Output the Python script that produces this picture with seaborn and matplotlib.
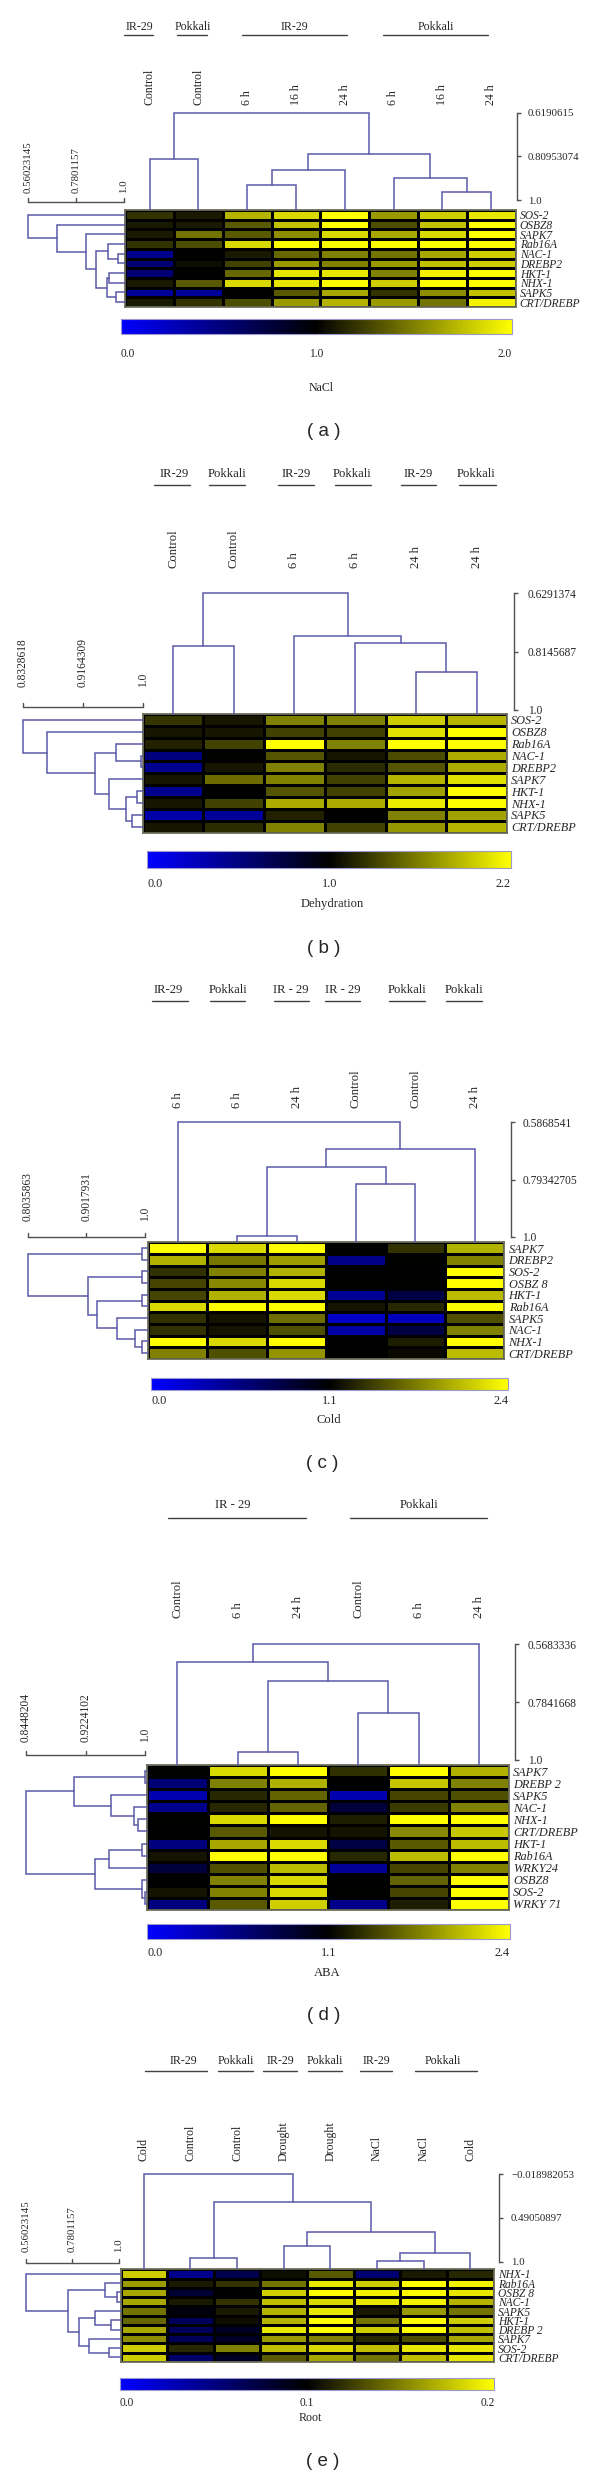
import numpy as np
import pandas as pd
import seaborn as sns
from matplotlib import pyplot as plt
from matplotlib.colors import LinearSegmentedColormap, TwoSlopeNorm

W, H = 600, 2476
PT = 0.72  # points per pixel at dpi 100

sns.set_style('white')
plt.rcParams['font.family'] = ['Liberation Serif', 'DejaVu Serif']

LINE_C = '#5a5aa8'
SCALE_C = '#505050'
cmap = LinearSegmentedColormap.from_list('blue_black_yellow', ['#0000ff', '#000000', '#ffff00'])

# ---------------- (a) NaCl ----------------
a_genes = ['SOS-2', 'OSBZ8', 'SAPK7', 'Rab16A', 'NAC-1', 'DREBP2', 'HKT-1', 'NHX-1', 'SAPK5', 'CRT/DREBP']
a_cols = ['Control', 'Control', '6 h', '16 h', '24 h', '6 h', '16 h', '24 h']
a_vals = [
    [1.2, 1.1, 1.7, 1.85, 2.0, 1.6, 1.8, 1.9],
    [1.1, 1.1, 1.35, 1.75, 2.0, 1.3, 1.75, 2.0],
    [1.1, 1.45, 1.35, 1.55, 1.85, 1.65, 1.85, 2.0],
    [1.2, 1.3, 1.85, 2.0, 2.0, 2.0, 2.0, 2.0],
    [0.45, 1.0, 1.1, 1.4, 1.5, 1.45, 1.65, 1.8],
    [0.55, 1.05, 1.25, 1.6, 1.5, 1.6, 1.75, 1.8],
    [0.55, 1.0, 1.4, 1.9, 1.9, 1.5, 1.95, 2.0],
    [1.1, 1.35, 1.85, 1.9, 2.0, 1.8, 2.0, 2.0],
    [0.4, 0.4, 1.0, 1.35, 1.65, 1.2, 1.55, 1.75],
    [1.1, 1.2, 1.3, 1.6, 1.7, 1.6, 1.45, 1.95],
]
a_col_tree = [(0, 1, 0.819), (2, 3, 0.935), (9, 4, 0.870), (6, 7, 0.967),
              (5, 11, 0.903), (10, 12, 0.797), (8, 13, 0.6190615)]
a_row_tree = [(4, 5, 0.974), (3, 10, 0.928), (6, 7, 0.932), (8, 9, 0.963), (12, 13, 0.922),
              (11, 14, 0.871), (2, 15, 0.829), (1, 16, 0.693), (0, 17, 0.5602)]
a_col_scale = ['0.6190615', '0.80953074', '1.0']
a_row_scale = ['0.56023145', '0.7801157', '1.0']
a_cbar = ['0.0', '1.0', '2.0']
a_groups = ['IR-29', 'Pokkali', 'IR-29', 'Pokkali']

# ---------------- (b) Dehydration ----------------
b_genes = ['SOS-2', 'OSBZ8', 'Rab16A', 'NAC-1', 'DREBP2', 'SAPK7', 'HKT-1', 'NHX-1', 'SAPK5', 'CRT/DREBP']
b_cols = ['Control', 'Control', '6 h', '6 h', '24 h', '24 h']
b_vals = [
    [1.25, 1.1, 1.6, 1.6, 1.95, 1.85],
    [1.1, 1.1, 1.3, 1.3, 2.05, 2.2],
    [1.15, 1.3, 2.2, 1.6, 2.2, 2.2],
    [0.5, 1.0, 1.4, 1.1, 1.35, 1.8],
    [0.45, 1.1, 1.6, 1.2, 1.4, 1.8],
    [1.1, 1.5, 1.6, 1.3, 1.85, 2.05],
    [0.45, 1.0, 1.4, 1.3, 1.75, 2.2],
    [1.1, 1.3, 1.8, 1.8, 2.1, 2.2],
    [0.35, 0.4, 1.15, 1.0, 1.6, 1.75],
    [1.1, 1.2, 1.6, 1.3, 1.7, 1.85],
]
b_col_tree = [(0, 1, 0.797), (4, 5, 0.878), (3, 7, 0.786), (2, 8, 0.765), (6, 9, 0.6291374)]
b_row_tree = [(3, 4, 0.997), (2, 10, 0.963), (6, 7, 0.992), (8, 9, 0.985), (12, 13, 0.977),
              (5, 14, 0.953), (11, 15, 0.934), (1, 16, 0.867), (0, 17, 0.8329)]
b_col_scale = ['0.6291374', '0.8145687', '1.0']
b_row_scale = ['0.8328618', '0.9164309', '1.0']
b_cbar = ['0.0', '1.0', '2.2']
b_groups = ['IR-29', 'Pokkali', 'IR-29', 'Pokkali', 'IR-29', 'Pokkali']

# ---------------- (c) Cold ----------------
c_genes = ['SAPK7', 'DREBP2', 'SOS-2', 'OSBZ 8', 'HKT-1', 'Rab16A', 'SAPK5', 'NAC-1', 'NHX-1', 'CRT/DREBP']
c_cols = ['6 h', '6 h', '24 h', 'Control', 'Control', '24 h']
c_vals = [
    [2.4, 2.2, 2.4, 1.1, 1.35, 2.0],
    [2.0, 1.7, 1.9, 0.5, 1.1, 1.75],
    [1.35, 1.75, 2.0, 1.1, 1.1, 2.4],
    [1.45, 1.8, 2.2, 1.1, 1.1, 2.4],
    [1.45, 2.0, 2.2, 0.45, 0.8, 2.05],
    [2.2, 2.4, 2.4, 1.2, 1.3, 2.4],
    [1.35, 1.2, 1.65, 0.25, 0.3, 1.5],
    [1.35, 1.2, 1.5, 0.4, 0.8, 1.75],
    [2.4, 2.2, 2.4, 1.1, 1.25, 2.4],
    [1.75, 1.5, 1.85, 1.1, 1.15, 2.05],
]
c_col_tree = [(1, 2, 0.997), (3, 4, 0.810), (6, 7, 0.747), (8, 5, 0.684), (0, 9, 0.5868541)]
c_row_tree = [(0, 1, 0.995), (2, 3, 0.994), (4, 5, 0.995), (8, 9, 0.995), (7, 13, 0.982),
              (6, 14, 0.953), (12, 15, 0.920), (11, 16, 0.905), (10, 17, 0.8036)]
c_col_scale = ['0.5868541', '0.79342705', '1.0']
c_row_scale = ['0.8035863', '0.9017931', '1.0']
c_cbar = ['0.0', '1.1', '2.4']
c_groups = ['IR-29', 'Pokkali', 'IR - 29', 'IR - 29', 'Pokkali', 'Pokkali']

# ---------------- (d) ABA ----------------
d_genes = ['SAPK7', 'DREBP 2', 'SAPK5', 'NAC-1', 'NHX-1', 'CRT/DREBP', 'HKT-1', 'Rab16A',
           'WRKY24', 'OSBZ8', 'SOS-2', 'WRKY 71']
d_cols = ['Control', '6 h', '24 h', 'Control', '6 h', '24 h']
d_vals = [
    [1.1, 2.2, 2.4, 1.35, 2.4, 2.0],
    [0.6, 1.75, 2.0, 1.1, 2.1, 1.75],
    [0.35, 1.3, 1.6, 0.35, 1.45, 1.5],
    [0.5, 1.3, 1.6, 0.85, 1.4, 1.75],
    [1.1, 2.2, 2.4, 1.25, 2.4, 2.4],
    [1.1, 1.55, 1.2, 1.2, 1.8, 2.1],
    [0.55, 1.95, 2.2, 0.8, 1.55, 2.05],
    [1.2, 2.4, 2.4, 1.3, 2.05, 2.4],
    [0.85, 1.5, 2.05, 0.45, 1.45, 1.75],
    [1.1, 1.75, 2.2, 1.1, 1.6, 2.4],
    [1.2, 1.75, 2.2, 1.1, 1.45, 2.4],
    [0.55, 1.55, 2.15, 0.5, 1.25, 2.4],
]
d_col_tree = [(1, 2, 0.969), (3, 4, 0.826), (6, 7, 0.705), (0, 8, 0.633), (9, 5, 0.5683336)]
d_row_tree = [(0, 1, 0.999), (4, 5, 0.990), (3, 13, 0.985), (2, 14, 0.955), (12, 15, 0.907),
              (6, 7, 0.995), (17, 8, 0.953), (10, 11, 0.9995), (9, 19, 0.995), (18, 20, 0.935),
              (16, 21, 0.8448)]
d_col_scale = ['0.5683336', '0.7841668', '1.0']
d_row_scale = ['0.8448204', '0.9224102', '1.0']
d_cbar = ['0.0', '1.1', '2.4']
d_groups = ['IR - 29', 'Pokkali']

# ---------------- (e) Root ----------------
e_genes = ['NHX-1', 'Rab16A', 'OSBZ 8', 'NAC-1', 'SAPK5', 'HKT-1', 'DREBP 2', 'SAPK7', 'SOS-2', 'CRT/DREBP']
e_cols = ['Cold', 'Control', 'Control', 'Drought', 'Drought', 'NaCl', 'NaCl', 'Cold']
e_vals = [
    [0.18, 0.045, 0.07, 0.105, 0.135, 0.055, 0.11, 0.115],
    [0.16, 0.11, 0.12, 0.145, 0.19, 0.18, 0.2, 0.195],
    [0.165, 0.08, 0.1, 0.18, 0.2, 0.195, 0.2, 0.19],
    [0.165, 0.11, 0.12, 0.175, 0.185, 0.19, 0.195, 0.17],
    [0.145, 0.095, 0.11, 0.17, 0.19, 0.11, 0.16, 0.145],
    [0.14, 0.065, 0.105, 0.17, 0.2, 0.145, 0.2, 0.18],
    [0.165, 0.065, 0.085, 0.19, 0.2, 0.18, 0.2, 0.175],
    [0.155, 0.065, 0.085, 0.16, 0.15, 0.115, 0.13, 0.165],
    [0.18, 0.115, 0.15, 0.175, 0.185, 0.175, 0.19, 0.19],
    [0.18, 0.06, 0.085, 0.135, 0.165, 0.145, 0.175, 0.19],
]
e_col_tree = [(1, 2, 0.960), (3, 4, 0.817), (5, 6, 0.995), (10, 7, 0.895), (9, 11, 0.657),
              (8, 12, 0.307), (0, 13, -0.018982053)]
e_row_tree = [(2, 3, 0.991), (1, 10, 0.937), (5, 6, 0.966), (4, 12, 0.887), (8, 9, 0.954),
              (7, 14, 0.859), (13, 15, 0.813), (11, 16, 0.761), (0, 17, 0.5602)]
e_col_scale = ['-0.018982053', '0.49050897', '1.0']
e_row_scale = ['0.56023145', '0.7801157', '1.0']
e_cbar = ['0.0', '0.1', '0.2']
e_groups = ['IR-29', 'Pokkali', 'IR-29', 'Pokkali', 'IR-29', 'Pokkali']

# layout in pixels for each panel
layouts = {
    'a': dict(heat=(125.1, 210, 515.5, 307), col_top=113, col_one=200, col_bar=517.4, col_lab=528,
              row_left=27.9, row_one=123.6, row_bar=201.7, row_lab=193, lab_bottom=105,
              cbar=(120.5, 319.3, 512, 334), cbar_lab=353.3, name=(321.5, 388.3), tag=(323.4, 431.7),
              grp_y=26.7, grp_ul=35,
              grp=[(139.7, 124.4, 153), (193, 176.8, 206.7), (294, 241.9, 346.7), (436, 382.7, 488)]),
    'b': dict(heat=(142.7, 714, 507, 832.7), col_top=593.3, col_one=710, col_bar=513.6, col_lab=528,
              row_left=23, row_one=142.7, row_bar=707.3, row_lab=687, lab_bottom=568.3,
              cbar=(147.3, 850.7, 511, 868.3), cbar_lab=883.3, name=(332, 904.3), tag=(323.4, 948.3),
              grp_y=474, grp_ul=485,
              grp=[(174, 153.8, 190.2), (226.6, 208.6, 245), (295.8, 277.5, 313.8),
                   (352, 334.9, 371.2), (418.3, 400.7, 436.3), (476.5, 459.2, 495.6)]),
    'c': dict(heat=(148.1, 1242.3, 504.4, 1359), col_top=1122.3, col_one=1236.7, col_bar=511, col_lab=522.4,
              row_left=27.6, row_one=145.4, row_bar=1236.7, row_lab=1220.7, lab_bottom=1108.3,
              cbar=(151.2, 1378.3, 508.2, 1390), cbar_lab=1400.7, name=(329, 1420), tag=(322.6, 1463.3),
              grp_y=990, grp_ul=1000.7,
              grp=[(168.4, 152.3, 187.5), (227.7, 209.7, 245), (290.8, 274, 309.2),
                   (342.5, 324.5, 359.7), (406.8, 388.8, 424.8), (464.2, 446.2, 482.2)]),
    'd': dict(heat=(147.3, 1765, 509, 1910), col_top=1644.3, col_one=1760, col_bar=514.7, col_lab=528,
              row_left=26, row_one=145.4, row_bar=1755, row_lab=1741.7, lab_bottom=1617.7,
              cbar=(147.3, 1924, 509.8, 1939), cbar_lab=1952.7, name=(327.2, 1972.7), tag=(323.4, 2015),
              grp_y=1505.5, grp_ul=1517.7,
              grp=[(232.3, 168.4, 306.2), (419, 350.2, 486.8)]),
    'e': dict(heat=(120.5, 2269.3, 493.7, 2362), col_top=2174.3, col_one=2261.7, col_bar=499.4, col_lab=511,
              row_left=26, row_one=118.6, row_bar=2263.3, row_lab=2251.7, lab_bottom=2160.7,
              cbar=(119.8, 2377.7, 494.4, 2390), cbar_lab=2402.7, name=(310, 2417.7), tag=(322.6, 2461.7),
              grp_y=2061, grp_ul=2070.7,
              grp=[(183, 145.4, 206.7), (235.4, 218.1, 252.6), (280.5, 263.3, 296.6),
                   (325.3, 308, 341.7), (376.2, 359.7, 392.3), (443.2, 415.2, 477.2)]),
}


def px_box(x0, y0, x1, y1):
    return [x0 / W, 1 - y1 / H, (x1 - x0) / W, (y1 - y0) / H]


def draw_tree(ax, merges, n_leaf, base, columns):
    pos = {i: i + 0.5 for i in range(n_leaf)}
    hgt = {i: base for i in range(n_leaf)}
    node = n_leaf
    for a, b, h in merges:
        p = [pos[a], pos[a], pos[b], pos[b]]
        v = [hgt[a], h, h, hgt[b]]
        if columns:
            ax.plot(p, v, color=LINE_C, lw=1.1, clip_on=False, solid_joinstyle='miter')
        else:
            ax.plot(v, p, color=LINE_C, lw=1.1, clip_on=False, solid_joinstyle='miter')
        pos[node] = (pos[a] + pos[b]) / 2
        hgt[node] = h
        node += 1


def fmt(s):
    return s.replace('-', '\u2212')


def draw_panel(fig, ov, vals, genes, cols, col_tree, row_tree, col_scale, row_scale,
               cbar_txt, name, tag, groups, lay, fs=8.3):
    hx0, hy0, hx1, hy1 = lay['heat']
    nrow, ncol = len(genes), len(cols)

    # heatmap + colorbar
    ax_h = fig.add_axes(px_box(hx0, hy0, hx1, hy1))
    ax_c = fig.add_axes(px_box(*lay['cbar']))
    cb_vals = [float(t) for t in cbar_txt]
    norm = TwoSlopeNorm(vcenter=cb_vals[1], vmin=cb_vals[0], vmax=cb_vals[2])
    df = pd.DataFrame(vals, index=genes)
    sns.heatmap(df, ax=ax_h, cmap=cmap, norm=norm, linewidths=0.9, linecolor='black',
                cbar_ax=ax_c, cbar_kws={'orientation': 'horizontal'},
                xticklabels=False, yticklabels=genes)
    ax_h.yaxis.tick_right()
    ax_h.tick_params(axis='y', length=0, pad=3, labelsize=fs, labelrotation=0)
    for t in ax_h.get_yticklabels():
        t.set_fontstyle('italic')
        t.set_horizontalalignment('left')
    for s in ax_h.spines.values():
        s.set_visible(True)
        s.set_color('#6e6e5a')
        s.set_linewidth(1.3)

    cb = ax_h.collections[0].colorbar
    cb.set_ticks(cb_vals, labels=cbar_txt)
    cb.outline.set_linewidth(0.8)
    cb.outline.set_edgecolor('#9a9ad0')
    ax_c.tick_params(axis='x', length=0, labelsize=fs,
                     pad=max((lay['cbar_lab'] - lay['cbar'][3] - 5.5) * PT, 1))
    labs = ax_c.get_xticklabels()
    labs[0].set_horizontalalignment('left')
    labs[-1].set_horizontalalignment('right')

    # column dendrogram with similarity scale on the right
    ax_d = fig.add_axes(px_box(hx0, lay['col_top'], hx1, hy0))
    v_top = float(col_scale[0])
    ppu = (lay['col_one'] - lay['col_top']) / (1 - v_top)
    v_bot = 1 + (hy0 - lay['col_one']) / ppu
    ax_d.set_xlim(0, ncol)
    ax_d.set_ylim(v_bot, v_top)
    draw_tree(ax_d, col_tree, ncol, v_bot, True)
    ax_d.patch.set_alpha(0)
    for s in ['left', 'top', 'bottom']:
        ax_d.spines[s].set_visible(False)
    sp = ax_d.spines['right']
    sp.set_visible(True)
    sp.set_color(SCALE_C)
    sp.set_linewidth(1)
    sp.set_position(('outward', (lay['col_bar'] - hx1) * PT))
    sp.set_bounds(v_top, 1.0)
    ax_d.yaxis.tick_right()
    ax_d.set_yticks([float(t) for t in col_scale], labels=[fmt(t) for t in col_scale])
    ax_d.tick_params(axis='y', direction='out', length=3, width=1, color=SCALE_C,
                     labelsize=fs - 0.5, pad=(lay['col_lab'] - lay['col_bar']) * PT - 3)
    ax_d.set_xticks(np.arange(ncol) + 0.5, labels=cols, rotation=90)
    ax_d.xaxis.tick_top()
    ax_d.tick_params(axis='x', length=0, labelsize=fs + 0.3,
                     pad=(lay['col_top'] - lay['lab_bottom']) * PT)

    # row dendrogram, scale bar drawn above it
    ax_r = fig.add_axes(px_box(lay['row_left'], hy0, hx0, hy1))
    v_left = float(row_scale[0])
    ppu = (lay['row_one'] - lay['row_left']) / (1 - v_left)
    v_right = 1 + (hx0 - lay['row_one']) / ppu
    ax_r.set_xlim(v_left, v_right)
    ax_r.set_ylim(nrow, 0)
    draw_tree(ax_r, row_tree, nrow, v_right, False)
    ax_r.axis('off')
    tr = ax_r.get_xaxis_transform()
    hpx = hy1 - hy0
    yb = 1 + (hy0 - lay['row_bar']) / hpx
    ax_r.plot([v_left, 1.0], [yb, yb], transform=tr, color=SCALE_C, lw=1, clip_on=False)
    for t in row_scale:
        v = float(t)
        ax_r.plot([v, v], [yb, yb + 4 / hpx], transform=tr, color=SCALE_C, lw=1, clip_on=False)
        ax_r.text(v, 1 + (hy0 - lay['row_lab']) / hpx, t, transform=tr, rotation=90,
                  ha='center', va='bottom', fontsize=fs - 0.5)

    # group labels, titles
    for g, (cx, ux0, ux1) in zip(groups, lay['grp']):
        ov.text(cx, lay['grp_y'], g, ha='center', va='center', fontsize=fs + 0.3)
        ov.plot([ux0, ux1], [lay['grp_ul']] * 2, color='#404040', lw=1)
    ov.text(lay['name'][0], lay['name'][1], name, ha='center', va='center', fontsize=fs + 0.3)
    ov.text(lay['tag'][0], lay['tag'][1], tag, ha='center', va='center', fontsize=13.5,
            family=['Liberation Sans', 'DejaVu Sans'])


fig = plt.figure(figsize=(W / 100, H / 100), dpi=100)
ov = fig.add_axes([0, 0, 1, 1])
ov.set_xlim(0, W)
ov.set_ylim(H, 0)
ov.axis('off')

draw_panel(fig, ov, a_vals, a_genes, a_cols, a_col_tree, a_row_tree, a_col_scale, a_row_scale,
           a_cbar, 'NaCl', '( a )', a_groups, layouts['a'])
draw_panel(fig, ov, b_vals, b_genes, b_cols, b_col_tree, b_row_tree, b_col_scale, b_row_scale,
           b_cbar, 'Dehydration', '( b )', b_groups, layouts['b'], fs=8.8)
draw_panel(fig, ov, c_vals, c_genes, c_cols, c_col_tree, c_row_tree, c_col_scale, c_row_scale,
           c_cbar, 'Cold', '( c )', c_groups, layouts['c'], fs=8.8)
draw_panel(fig, ov, d_vals, d_genes, d_cols, d_col_tree, d_row_tree, d_col_scale, d_row_scale,
           d_cbar, 'ABA', '( d )', d_groups, layouts['d'], fs=8.8)
draw_panel(fig, ov, e_vals, e_genes, e_cols, e_col_tree, e_row_tree, e_col_scale, e_row_scale,
           e_cbar, 'Root', '( e )', e_groups, layouts['e'])

fig.savefig('out.png', dpi=100, facecolor='white')
